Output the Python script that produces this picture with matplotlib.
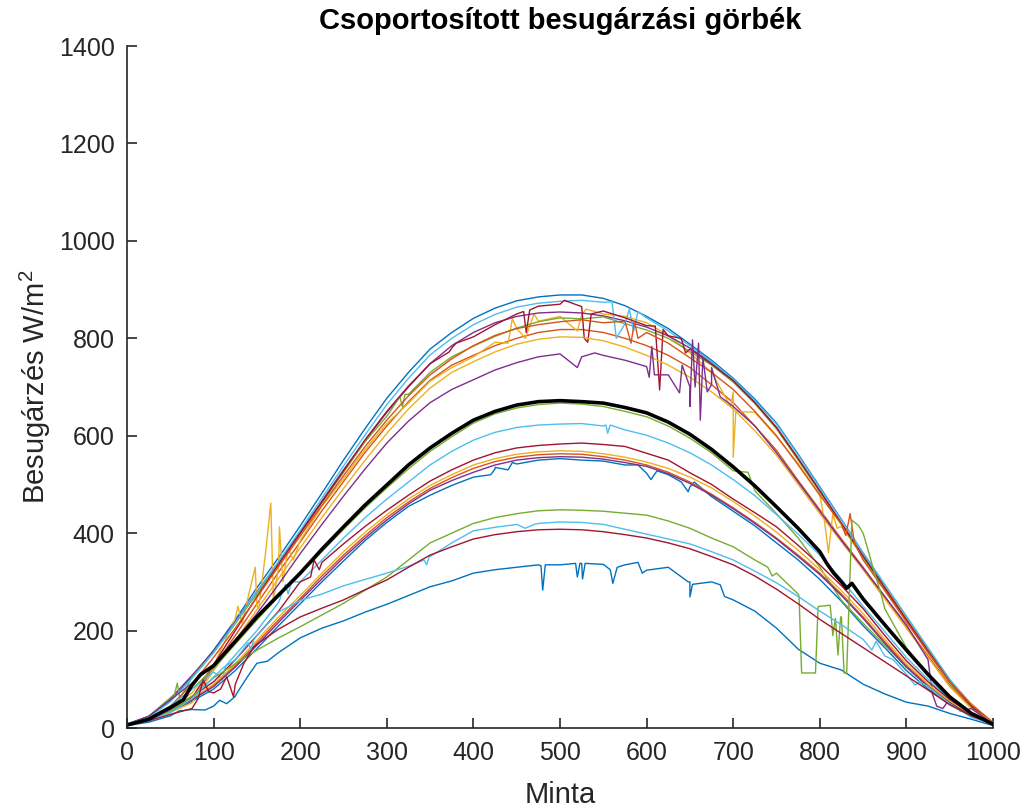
import numpy as np
import matplotlib.pyplot as plt

plt.rcParams['font.family'] = ['Liberation Sans', 'DejaVu Sans']
plt.rcParams['mathtext.default'] = 'regular'

# mintavételi pontok (0..1000, 25-ös lépés)
minta = np.arange(0, 1001, 25)

# MATLAB alap színsorrend
kek = '#0072BD'
narancs = '#D95319'
sarga = '#EDB120'
lila = '#7E2F8E'
zold = '#77AC30'
vkek = '#4DBEEE'
bordo = '#A2142F'

# --- felső csoport (tiszta napok) ---
g01 = [8, 22, 55, 105, 160, 222, 288, 350, 415, 482, 550, 615, 677, 730, 778, 812, 841, 862, 877, 885, 889,
       889, 882, 867, 845, 820, 788, 755, 718, 675, 626, 562, 495, 428, 359, 293, 228, 163, 99, 48, 8]
t01 = []
g02 = [8, 22, 54, 102, 155, 216, 280, 342, 406, 472, 538, 602, 664, 718, 766, 800, 828, 849, 864, 872, 876,
       878, 874, 830, 842, 815, 785, 752, 716, 672, 624, 560, 493, 427, 360, 295, 230, 165, 100, 47, 8]
t02 = [(560, 875), (565, 800), (580, 860), (585, 815), (590, 855)]
g03 = [8, 18, 35, 62, 130, 200, 270, 336, 400, 464, 528, 592, 650, 702, 748, 780, 803, 828, 850, 866, 870,
       865, 856, 842, 826, 805, 778, 747, 713, 668, 617, 553, 487, 420, 353, 288, 222, 158, 95, 45, 8]
t03 = [(372, 772), (380, 790), (458, 855), (461, 812), (465, 858), (505, 878), (528, 800), (532, 792),
       (536, 850), (610, 825), (615, 694), (619, 818), (640, 800), (645, 770)]
g04 = [8, 24, 60, 108, 158, 218, 280, 340, 402, 466, 530, 590, 648, 700, 748, 785, 812, 832, 845, 852, 854,
       852, 846, 836, 823, 805, 780, 750, 713, 668, 617, 553, 487, 420, 352, 287, 222, 158, 95, 45, 8]
t04 = []
g05 = [8, 24, 62, 104, 155, 214, 276, 336, 398, 462, 525, 588, 640, 685, 730, 762, 784, 804, 821, 834, 842,
       840, 844, 830, 817, 800, 773, 745, 710, 666, 614, 550, 484, 418, 350, 285, 220, 155, 93, 44, 8]
t05 = [(55, 70), (58, 92), (61, 60), (315, 680), (318, 660), (321, 685)]
g06 = [8, 20, 40, 72, 128, 225, 250, 330, 385, 455, 512, 572, 625, 667, 712, 740, 762, 792, 820, 835, 845,
       848, 850, 845, 832, 806, 770, 730, 690, 648, 598, 543, 478, 414, 350, 290, 225, 160, 97, 50, 10]
t06 = [(128, 250), (133, 215), (140, 270), (148, 330), (152, 245), (160, 360), (166, 462), (169, 262),
       (176, 413), (180, 300), (186, 370), (192, 345), (440, 790), (445, 840), (460, 800), (470, 850),
       (520, 815), (530, 860), (697, 660), (700, 556), (703, 650), (805, 430), (810, 360), (815, 440),
       (820, 410)]
g07 = [8, 18, 33, 55, 125, 190, 255, 320, 382, 446, 506, 566, 620, 670, 714, 745, 765, 785, 800, 812, 818,
       818, 812, 800, 785, 765, 740, 705, 668, 620, 570, 508, 448, 388, 330, 270, 208, 148, 88, 42, 10]
t07 = []
g08 = [8, 20, 45, 90, 145, 205, 268, 332, 394, 457, 518, 578, 632, 682, 725, 758, 785, 806, 820, 828, 834,
       838, 832, 835, 812, 790, 760, 730, 695, 650, 600, 540, 478, 418, 345, 282, 218, 155, 95, 48, 12]
t08 = [(582, 790), (586, 835), (590, 800), (830, 395), (835, 440), (840, 380)]
g09 = [8, 17, 32, 52, 118, 180, 243, 307, 370, 432, 492, 550, 605, 655, 698, 730, 752, 772, 788, 798, 803,
       802, 795, 782, 765, 745, 720, 690, 655, 610, 560, 500, 440, 382, 325, 265, 205, 145, 85, 40, 10]
t09 = []
g10 = [8, 24, 58, 92, 130, 180, 235, 295, 358, 418, 476, 532, 585, 630, 668, 695, 715, 735, 750, 762, 768,
       762, 765, 755, 742, 725, 700, 705, 660, 620, 565, 505, 445, 385, 328, 270, 212, 140, 60, 40, 8]
t10 = [(520, 740), (540, 770), (603, 720), (606, 783), (609, 725), (638, 688), (641, 745), (650, 660),
       (653, 797), (656, 700), (660, 790), (662, 632), (665, 760), (670, 690), (675, 740), (685, 680),
       (930, 70), (935, 45), (942, 40), (955, 55), (962, 35)]

# --- középső csoport ---
g11 = [8, 20, 45, 80, 122, 172, 222, 270, 315, 362, 408, 452, 493, 532, 568, 598, 626, 645, 657, 664, 667,
       665, 660, 650, 639, 620, 595, 565, 528, 487, 440, 390, 330, 262, 215, 170, 125, 85, 50, 25, 8]
t11 = [(717, 525)]
g12 = [8, 20, 45, 80, 115, 150, 200, 258, 300, 345, 390, 432, 470, 505, 540, 568, 591, 607, 617, 622, 624,
       625, 620, 612, 601, 585, 565, 540, 510, 477, 438, 398, 355, 305, 250, 198, 145, 100, 60, 30, 8]
t12 = [(110, 100), (114, 128), (183, 295), (186, 275), (190, 300), (553, 622), (555, 605), (558, 622)]
g13 = [8, 18, 38, 65, 95, 140, 190, 240, 300, 340, 378, 414, 447, 478, 507, 530, 550, 565, 575, 580, 583,
       585, 582, 578, 564, 550, 524, 500, 470, 442, 413, 375, 335, 292, 245, 190, 138, 95, 58, 28, 8]
t13 = [(212, 310), (216, 345), (222, 325)]
g14 = [8, 17, 35, 60, 90, 132, 180, 228, 272, 318, 362, 402, 438, 470, 498, 520, 540, 553, 562, 567, 569,
       568, 563, 556, 546, 533, 515, 493, 465, 435, 402, 365, 325, 282, 235, 182, 132, 90, 55, 27, 8]
t14 = []
g15 = [8, 17, 34, 58, 88, 128, 175, 222, 266, 312, 355, 395, 432, 464, 492, 514, 533, 547, 556, 561, 563,
       562, 557, 550, 540, 525, 505, 480, 452, 422, 390, 355, 318, 275, 228, 177, 128, 88, 53, 26, 8]
t15 = []
g16 = [8, 18, 36, 58, 85, 125, 170, 217, 262, 306, 350, 390, 427, 460, 488, 508, 525, 540, 550, 555, 557,
       556, 552, 545, 537, 522, 502, 478, 450, 420, 388, 352, 315, 272, 225, 174, 125, 85, 52, 25, 8]
t16 = []
g17 = [8, 18, 35, 55, 80, 118, 163, 210, 255, 300, 343, 385, 422, 455, 478, 498, 515, 532, 542, 550, 553,
       550, 548, 540, 523, 520, 495, 475, 445, 415, 380, 345, 305, 260, 210, 165, 118, 80, 48, 24, 8]
t17 = [(420, 520), (425, 535), (440, 530), (445, 545), (590, 540), (605, 510), (612, 528), (640, 505),
       (648, 485), (655, 505)]

# --- alsó csoport (felhős napok) ---
g18 = [8, 15, 35, 65, 103, 132, 160, 185, 208, 232, 256, 283, 310, 345, 380, 400, 420, 432, 440, 446, 448,
       447, 445, 441, 437, 425, 410, 390, 372, 345, 318, 275, 250, 228, 400, 245, 165, 110, 65, 30, 8]
t18 = [(740, 330), (745, 312), (776, 271), (779, 113), (795, 113), (798, 249), (812, 252), (815, 190),
       (818, 225), (821, 150), (824, 228), (828, 113), (831, 113), (837, 427), (845, 415), (855, 370),
       (862, 325), (870, 280)]
g19 = [8, 16, 32, 60, 105, 140, 190, 238, 262, 275, 292, 305, 318, 332, 352, 380, 405, 412, 418, 420, 423,
       422, 418, 408, 398, 388, 378, 362, 345, 322, 298, 270, 240, 212, 182, 148, 110, 85, 50, 22, 8]
t19 = [(112, 125), (140, 175), (143, 160), (146, 180), (343, 345), (346, 335), (349, 352), (460, 410),
       (470, 418), (860, 160), (865, 178), (885, 140), (910, 88), (915, 95)]
g20 = [8, 15, 28, 40, 72, 90, 172, 203, 228, 246, 263, 284, 304, 330, 355, 372, 388, 397, 403, 407, 408,
       407, 403, 397, 390, 380, 368, 352, 335, 312, 285, 255, 223, 194, 165, 136, 107, 78, 48, 25, 8]
t20 = [(82, 60), (88, 99), (94, 75), (108, 80), (115, 105), (119, 85), (123, 64), (135, 133), (146, 166)]
g21 = [5, 12, 25, 38, 45, 65, 133, 155, 185, 205, 220, 238, 254, 272, 290, 302, 318, 325, 330, 335, 335,
       338, 336, 335, 324, 330, 300, 300, 263, 240, 205, 162, 133, 119, 90, 70, 53, 45, 30, 18, 5]
t21 = [(60, 35), (90, 37), (107, 57), (115, 50), (127, 72), (139, 105), (162, 137), (478, 333), (480, 283),
       (483, 335), (518, 338), (520, 310), (523, 338), (526, 306), (529, 338), (558, 325), (561, 297),
       (566, 330), (590, 340), (595, 318), (648, 300), (650, 269), (653, 295), (685, 294), (690, 270)]

# átlaggörbe
atlag = [6, 18, 42, 88, 128, 178, 228, 273, 318, 367, 413, 458, 499, 540, 575, 605, 632, 650, 663, 670, 672,
         670, 667, 658, 647, 628, 603, 572, 536, 497, 454, 410, 362, 300, 265, 212, 160, 110, 64, 30, 8]
atlag_t = [(65, 58), (85, 110), (808, 338), (816, 318), (831, 287), (837, 297)]

gorbek = [
    (g01, t01, kek), (g07, t07, narancs), (g06, t06, sarga), (g04, t04, lila), (g05, t05, zold),
    (g02, t02, vkek), (g03, t03, bordo), (g17, t17, kek), (g08, t08, narancs), (g09, t09, sarga),
    (g10, t10, lila), (g11, t11, zold), (g12, t12, vkek), (g13, t13, bordo), (g21, t21, kek),
    (g15, t15, narancs), (g14, t14, sarga), (g16, t16, lila), (g18, t18, zold), (g19, t19, vkek),
    (g20, t20, bordo),
]


def osszefuz(y, extra):
    x = np.concatenate([minta, [p[0] for p in extra]])
    v = np.concatenate([y, [p[1] for p in extra]])
    idx = np.argsort(x, kind='stable')
    return x[idx], v[idx]


fig = plt.figure(figsize=(10.27, 8.09), dpi=100)
ax = fig.add_axes([0.1237, 0.1001, 0.8432, 0.8430])

for y, extra, szin in gorbek:
    xx, yy = osszefuz(y, extra)
    ax.plot(xx, yy, color=szin, lw=1.0)

xx, yy = osszefuz(atlag, atlag_t)
ax.plot(xx, yy, color='k', lw=2.6)

ax.set_xlim(0, 1000)
ax.set_ylim(0, 1400)
ax.set_xticks(np.arange(0, 1001, 100))
ax.set_yticks(np.arange(0, 1401, 200))

szurke = '#262626'
for s in ['top', 'right']:
    ax.spines[s].set_visible(False)
for s in ['left', 'bottom']:
    ax.spines[s].set_color(szurke)
    ax.spines[s].set_linewidth(1.2)
ax.tick_params(direction='in', length=7, width=1.2, colors=szurke, labelsize=18, pad=9)

ax.set_title('Csoportosított besugárzási görbék', fontsize=21, fontweight='bold', pad=12)
ax.set_xlabel('Minta', fontsize=21, color=szurke, labelpad=12)
ax.set_ylabel(r'Besugárzés W/m$^2$', fontsize=21, color=szurke, labelpad=4)

fig.savefig('out.png', dpi=100)
